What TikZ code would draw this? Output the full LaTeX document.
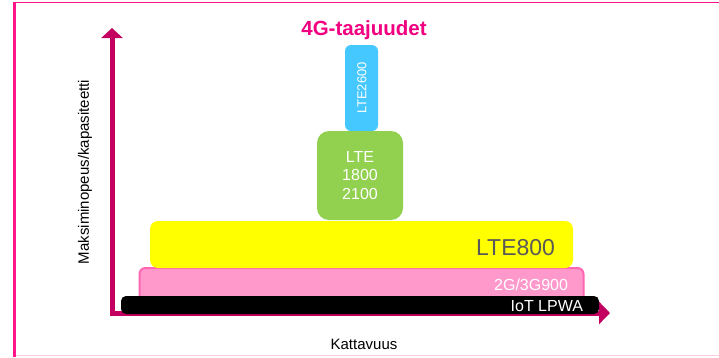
\documentclass[tikz,border=0pt]{standalone}
\usepackage{fontspec}
\setmainfont{Liberation Sans}
\usetikzlibrary{arrows.meta}
\definecolor{framepink}{RGB}{255,20,140}
\definecolor{framepale}{RGB}{255,200,225}
\definecolor{titlemag}{RGB}{240,0,128}
\definecolor{axiscol}{RGB}{195,0,95}
\definecolor{bandblue}{RGB}{69,200,255}
\definecolor{bandgreen}{RGB}{146,208,80}
\definecolor{bandyellow}{RGB}{255,255,0}
\definecolor{bandpink}{RGB}{255,153,204}
\definecolor{bandpinkedge}{RGB}{255,102,178}
\definecolor{textgray}{RGB}{89,89,89}
\tikzset{
  band/.style={inner sep=0pt, outer sep=0pt, draw=none},
  lbl/.style={inner sep=0pt, outer sep=0pt},
  fs/.style={font=\fontsize{#1}{#1}\selectfont},
}
\begin{document}
\begin{tikzpicture}[x=1pt,y=-1pt]
\useasboundingbox (0,0) rectangle (719,357);
% frame
\draw[framepink, line width=2.2pt] (14.5,357) -- (14.5,2.5);
\draw[framepink, line width=1.6pt] (13.4,2.5) -- (719,2.5);
\draw[framepale, line width=1.2pt] (15.5,355.5) -- (719,355.5);
% title
\node[lbl, anchor=base, text=titlemag, font=\fontsize{20.5}{20.5}\selectfont\bfseries] (title) at (364,35.7) {4G-taajuudet};
% bands
\node[band, fill=bandblue, rounded corners=6pt, minimum width=33pt, minimum height=86pt] (b2600) at (361.5,88) {};
\node[lbl, rotate=90, text=white, fs=13] (t2600) at (362,88) {LTE2600};
\node[band, fill=bandgreen, rounded corners=12pt, minimum width=86pt, minimum height=89pt, text=white, align=center, font=\fontsize{16}{18.5}\selectfont] (b1800) at (360,175.5) {LTE\\1800\\2100};
\node[band, fill=bandpink, draw=bandpinkedge, line width=2pt, rounded corners=6pt, minimum width=444pt, minimum height=36pt] (b900) at (361.5,286) {};
\node[lbl, anchor=base east, text=white, fs=16] (t900) at (568,290.7) {2G/3G900};
\node[band, fill=bandyellow, rounded corners=8pt, minimum width=423pt, minimum height=47pt] (b800) at (361.5,244.5) {};
\node[lbl, anchor=base east, text=textgray, fs=23] (t800) at (555,255) {LTE800};
% axes
\coordinate (ytop) at (112,28);
\coordinate (corner) at (112,313);
\coordinate (xend) at (610,313);
\draw[axiscol, line width=5pt, line join=miter, {Triangle[length=10pt,width=21pt]}-{Triangle[length=11pt,width=22pt]}] (ytop) -- (corner) -- (xend);
% black band
\node[band, fill=black, rounded corners=5pt, minimum width=478pt, minimum height=18pt] (biot) at (360,305) {};
\node[lbl, anchor=base east, text=white, fs=16] (tiot) at (583,311.7) {IoT LPWA};
% axis labels
\node[lbl, rotate=90, fs=15] (ylab) at (85,172) {Maksiminopeus/kapasiteetti};
\node[lbl, anchor=base, fs=15] (xlab) at (364,349) {Kattavuus};
\end{tikzpicture}
\end{document}
